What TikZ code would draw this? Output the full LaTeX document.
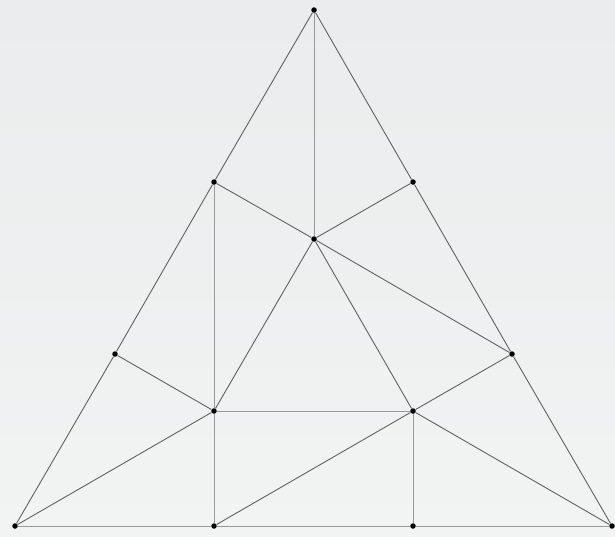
\documentclass[tikz,border=0pt]{standalone}
\begin{document}
\begin{tikzpicture}[x=1pt,y=-1pt,
  dot/.style={circle,fill=black,inner sep=0pt,minimum size=5.5pt},
  diag/.style={draw=black!62,line width=0.9pt},
  axis/.style={draw=black!40,line width=0.9pt}]
\definecolor{bgA}{RGB}{234,236,237}
\definecolor{bgB}{RGB}{242,243,243}
\shade[top color=bgA,bottom color=bgB] (0,0) rectangle (615,536);
\useasboundingbox (0,0) rectangle (615,536);
\node[dot] (A) at (314,10) {};
\node[dot] (B) at (15,526) {};
\node[dot] (C) at (612,526) {};
\node[dot] (L1) at (214,182) {};
\node[dot] (L2) at (115,354) {};
\node[dot] (R1) at (413,182) {};
\node[dot] (R2) at (512,354) {};
\node[dot] (O) at (314,239) {};
\node[dot] (P) at (214,411) {};
\node[dot] (Q) at (413,411) {};
\node[dot] (B1) at (214,526) {};
\node[dot] (B2) at (413,526) {};
\draw[diag] (A) -- (L1) -- (L2) -- (B);
\draw[diag] (A) -- (R1) -- (R2) -- (C);
\draw[axis] (B) -- (B1) -- (B2) -- (C);
\draw[axis] (A) -- (O);
\draw[diag] (L1) -- (O) -- (R1);
\draw[axis] (L1) -- (P) -- (B1);
\draw[axis] (Q) -- (B2);
\draw[axis] (P) -- (Q);
\draw[diag] (O) -- (R2);
\draw[diag] (O) -- (P);
\draw[diag] (O) -- (Q);
\draw[diag] (L2) -- (P);
\draw[diag] (R2) -- (Q);
\draw[diag] (B) -- (P);
\draw[diag] (B1) -- (Q);
\draw[diag] (Q) -- (C);
\end{tikzpicture}
\end{document}
